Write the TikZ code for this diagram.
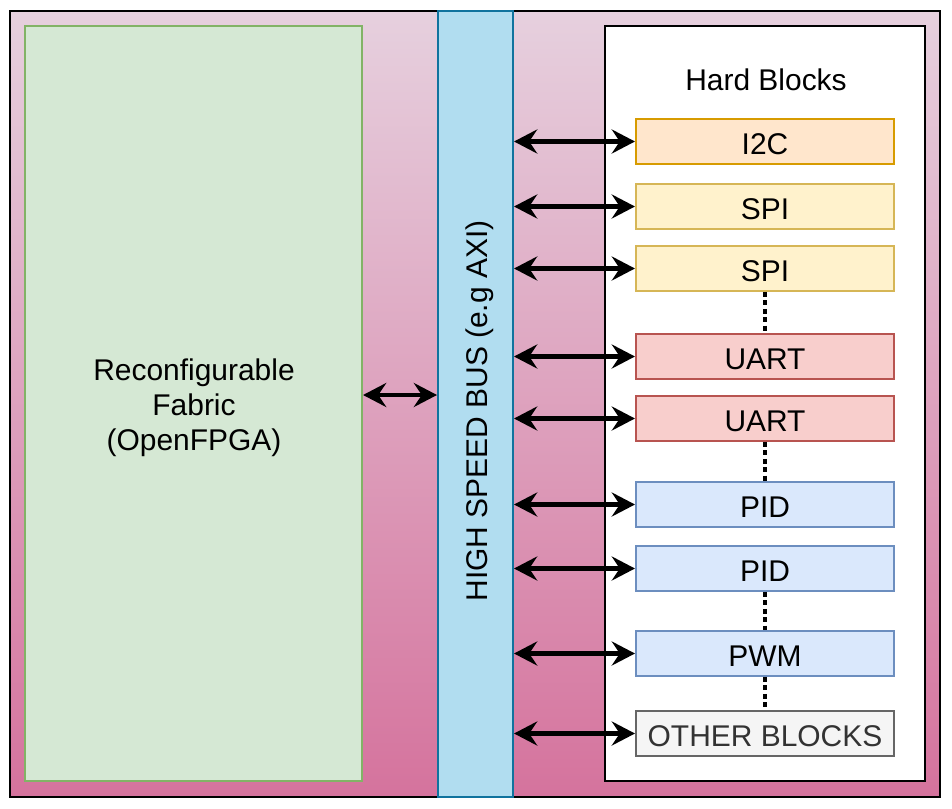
\documentclass[tikz,border=0pt]{standalone}
\usepackage{fontspec}
\setmainfont{Liberation Sans}
\usetikzlibrary{arrows.meta}
\definecolor{socTop}{HTML}{E6D0DE}
\definecolor{socBot}{HTML}{D5739D}
\definecolor{fabFill}{HTML}{D5E8D4}
\definecolor{fabLine}{HTML}{82B366}
\definecolor{busFill}{HTML}{B1DDF0}
\definecolor{busLine}{HTML}{10739E}
\definecolor{orFill}{HTML}{FFE6CC}
\definecolor{orLine}{HTML}{D79B00}
\definecolor{yeFill}{HTML}{FFF2CC}
\definecolor{yeLine}{HTML}{D6B656}
\definecolor{reFill}{HTML}{F8CECC}
\definecolor{reLine}{HTML}{B85450}
\definecolor{blFill}{HTML}{DAE8FC}
\definecolor{blLine}{HTML}{6C8EBF}
\definecolor{grFill}{HTML}{F5F5F5}
\definecolor{grLine}{HTML}{666666}
\definecolor{grText}{HTML}{333333}
\tikzset{
	hblock/.style={draw=#1Line, fill=#1Fill, line width=1.4pt, minimum width=6.45cm, minimum height=1.125cm, inner sep=0pt, text height=18.5pt, text depth=0pt},
	busarrow/.style={line width=2.9pt, {Stealth[length=0.58cm,width=0.6cm,inset=0.2cm]}-{Stealth[length=0.58cm,width=0.6cm,inset=0.2cm]}},
	gapdots/.style={line width=2.3pt, dash pattern=on 3.4pt off 2.6pt}
}

\begin{document}
\begin{tikzpicture}[x=0.025cm, y=-0.025cm, font=\fontsize{21.3}{24.8}\selectfont]
			%%%%% START %%%%%
			\useasboundingbox (0, 0) rectangle (952, 808);
			
			\shade[top color=socTop, bottom color=socBot] (10, 11) rectangle (940, 797);
			\draw[line width=1.4pt] (10, 11) rectangle (940, 797);
			
			\node[draw=fabLine, fill=fabFill, line width=1.4pt, minimum width=8.425cm, minimum height=18.875cm] (fabric) at (193.5, 403.5) {};
			\node[align=center] (fabtext) at (194, 408) {Reconfigurable\\Fabric\\(OpenFPGA)};
			
			\node[draw=busLine, fill=busFill, line width=1.4pt, minimum width=1.875cm, minimum height=19.65cm] (bus) at (475.5, 404) {};
			\node[rotate=90] (buslabel) at (480, 411) {HIGH SPEED BUS (e.g AXI)};
			
			\node[draw, fill=white, line width=1.4pt, minimum width=8cm, minimum height=18.875cm] (hard) at (765, 403.5) {};
			\node (hardtitle) at (766, 80) {Hard Blocks};
			
			\node[hblock=or] (i2c) at (765, 141.5) {I2C};
			\node[hblock=ye] (spiA) at (765, 206.5) {SPI};
			\node[hblock=ye] (spiB) at (765, 268.5) {SPI};
			\node[hblock=re] (uartA) at (765, 356.5) {UART};
			\node[hblock=re] (uartB) at (765, 418.5) {UART};
			\node[hblock=bl] (pidA) at (765, 504.5) {PID};
			\node[hblock=bl] (pidB) at (765, 568.5) {PID};
			\node[hblock=bl] (pwm) at (765, 653.5) {PWM};
			\node[hblock=gr, text=grText] (other) at (765, 733.5) {OTHER BLOCKS};
			
			\draw[busarrow] (fabric.east |- 0, 395) -- (bus.west |- 0, 395);
			\foreach \blk in {i2c, spiA, spiB, uartA, uartB, pidA, pidB, pwm, other}
				\draw[busarrow] (bus.east |- \blk.west) -- (\blk.west);
			
			\draw[gapdots] (spiB.south) -- (uartA.north);
			\draw[gapdots] (uartB.south) -- (pidA.north);
			\draw[gapdots] (pidB.south) -- (pwm.north);
			\draw[gapdots] (pwm.south) -- (other.north);
			%%%%% END %%%%%
		\end{tikzpicture}
\end{document}
